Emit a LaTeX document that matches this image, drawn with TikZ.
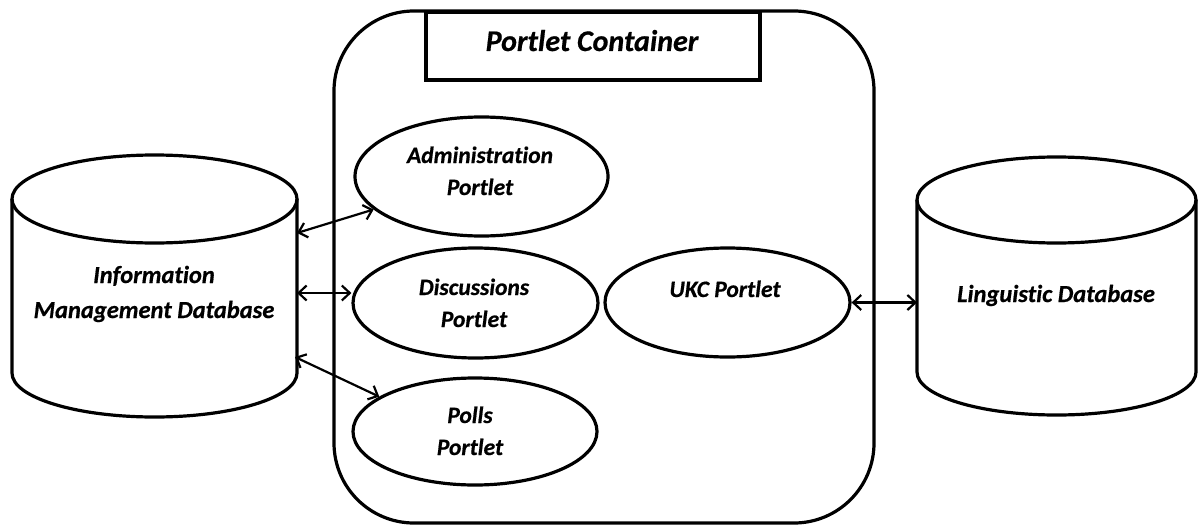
\documentclass[tikz,border=0pt]{standalone}
\usepackage{fontspec}
\newfontfamily\cbi{Carlito Bold Italic}[Ligatures=NoCommon, FakeBold=0.6]
\usetikzlibrary{shapes.geometric,arrows.meta}
\tikzset{
  shp/.style={line width=3.2pt},
  lbl/.style={font=\fontsize{24.5}{35}\selectfont\cbi, align=center, inner sep=0pt, anchor=base},
  plbl/.style={font=\fontsize{23.5}{32}\selectfont\cbi, align=center, inner sep=0pt, anchor=base},
  ell/.style={draw, shp, ellipse, inner sep=0pt},
  arr/.style={line width=2.2pt, {Straight Barb[length=8pt,width=15pt]}-{Straight Barb[length=8pt,width=15pt]}}
}
\begin{document}
\begin{tikzpicture}[x=1pt,y=-1pt]
\useasboundingbox (0,0) rectangle (1198,527);
% container
\draw[shp, rounded corners=80pt] (334,11) rectangle (874,523);
\node[draw, shp, fill=white, minimum width=334pt, minimum height=68pt, inner sep=0pt] (title) at (593,46) {};
\node[font=\fontsize{30}{34}\selectfont\cbi, anchor=base, inner sep=0pt] (titletext) at (592,51) {Portlet Container};
% left cylinder
\draw[shp] (154.5,199) ellipse [x radius=142.5pt, y radius=44pt];
\draw[shp] (12,199) -- (12,373) arc[start angle=180, end angle=360, x radius=142.5pt, y radius=44pt] -- (297,199);
\node[lbl] (imdb) at (154,318) {Information\\Management Database};
% right cylinder
\draw[shp] (1056.5,200) ellipse [x radius=139.5pt, y radius=43pt];
\draw[shp] (917,200) -- (917,372) arc[start angle=180, end angle=360, x radius=139.5pt, y radius=43pt] -- (1196,200);
\node[lbl] (ldb) at (1056,302) {Linguistic Database};
% portlets
\node[ell, minimum width=253pt, minimum height=119pt] (admin) at (481.5,176.5) {};
\node[ell, minimum width=245pt, minimum height=110pt] (disc) at (475.5,303) {};
\node[ell, minimum width=244pt, minimum height=107pt] (polls) at (475,431.5) {};
\node[ell, minimum width=245pt, minimum height=109pt] (ukc) at (727.5,302.5) {};
\node[plbl] (admint) at (480,195) {Administration\\Portlet};
\node[plbl] (disct) at (474,327) {Discussions\\Portlet};
\node[plbl] (pollst) at (470,455) {Polls\\Portlet};
\node[plbl] (ukct) at (725,297) {UKC Portlet};
% connector end points on cylinders
\coordinate (l1) at (297,233);
\coordinate (l2) at (297,293);
\coordinate (l3) at (295,357);
\coordinate (r1) at (917,303);
% connectors
\draw[arr] (l1) -- (admin.197);
\draw[arr] (l2) -- (l2 -| disc.west);
\draw[arr] (l3) -- (polls.160);
\draw[arr] (ukc.east) -- (ukc.east -| r1);
\end{tikzpicture}
\end{document}
